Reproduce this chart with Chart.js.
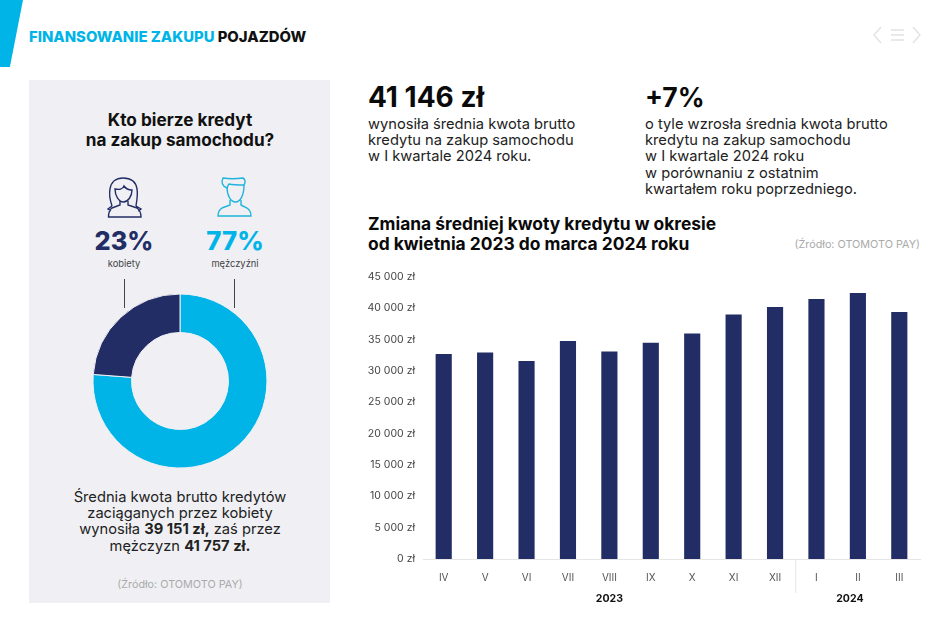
<!DOCTYPE html>
<html lang="pl">
<head>
<meta charset="utf-8">
<title>Finansowanie zakupu pojazdów</title>
<script src="https://cdn.jsdelivr.net/npm/chart.js@4"></script>
<style>
  html, body { margin: 0; padding: 0; background: #fff; }
  body { width: 940px; height: 623px; position: relative; overflow: hidden; font-family: Inter, sans-serif; color: #111; }
  .t { position: absolute; white-space: nowrap; line-height: 1; }
  .c { text-align: center; transform: translateX(-50%); }
  .corner { position: absolute; left: 0; top: 0; width: 23px; height: 67px; background: #00b4e8; clip-path: polygon(0 0, 100% 0, 43% 100%, 0 100%); }
  .panel { position: absolute; left: 29px; top: 80px; width: 301px; height: 523px; background: #f0f0f4; }
  .lines { line-height: 16.2px; font-size: 14.7px; color: #222; }
  .src { font-size: 10.8px; color: #aaa; }
  b { font-weight: 700; }
  canvas { position: absolute; }
  svg { position: absolute; }
  .stem { position: absolute; width: 1px; top: 279px; height: 29px; background: #444; }
</style>
</head>
<body>
<div class="corner"></div>
<div class="t" style="left:29px;top:30px;font-size:14.85px;font-weight:800"><span style="color:#00b4e8">FINANSOWANIE ZAKUPU</span> POJAZDÓW</div>

<svg style="left:870px;top:24px" width="54" height="22" fill="none" stroke="#e2e2e2" stroke-width="1.3">
  <path d="M11 3 L4 11 L11 19 M43 3 L50 11 L43 19 M21 6 H34 M21 11 H34 M21 16 H34"/>
</svg>

<div class="panel"></div>
<div class="t c" style="left:180px;top:110px;font-size:17.2px;font-weight:700;line-height:20px">Kto bierze kredyt<br>na zakup samochodu?</div>

<!-- icons -->
<svg style="left:105px;top:176px" width="38" height="44" fill="none" stroke="#222d66" stroke-width="1.4">
  <path d="M7 30 C5 24 4 18 5 13 C6 6 11 2 18 2 C26 2 31 6 32 13 C33 18 32 24 31 30"/>
  <path d="M10 13 C14 14 18 13 19 10 C21 13 24 14 27 14 C27 20 23 26 18.5 26 C14 26 10 20 10 13 Z"/>
  <path d="M15 25 V29 L7 32 C4 34 3.5 38 3.5 41 H36 C36 38 35 34 32 32 L23 29 V25 M7 30 L3 33 L6 35 M31 30 L36 33 L33 35"/>
</svg>
<svg style="left:216px;top:176px" width="38" height="44" fill="none" stroke="#1fb4dc" stroke-width="1.4">
  <path d="M7 2 C5 6 6 10 11 12 C12 10 12 9 13 8 C18 9 24 9 28 9 C30 6 29 3 27 2 C20 3 13 3 7 2 Z"/>
  <path d="M11 11 C11 20 15 26 19.5 26 C24 26 28 20 28 9"/>
  <path d="M14 24 V29 L6 32 C3 34 2 37 2 40 H35 C35 37 34 34 31 32 L25 29 V24"/>
</svg>

<div class="t c" style="left:124px;top:228px;font-size:25.3px;font-weight:800;color:#222d66">23%</div>
<div class="t c" style="left:235px;top:228px;font-size:25.8px;font-weight:800;color:#00b4e8">77%</div>
<div class="t c" style="left:124px;top:259px;font-size:9.4px;color:#444">kobiety</div>
<div class="t c" style="left:235px;top:259px;font-size:9.4px;color:#444">mężczyźni</div>
<div class="stem" style="left:124px"></div>
<div class="stem" style="left:234px"></div>

<canvas id="shareChart" width="184" height="184" style="left:88px;top:289px"></canvas>

<div class="t c lines" style="left:180px;top:489px">Średnia kwota brutto kredytów<br>zaciąganych przez kobiety<br>wynosiła <b>39 151 zł,</b> zaś przez<br>mężczyzn <b>41 757 zł.</b></div>
<div class="t c src" style="left:180px;top:580px">(Źródło: OTOMOTO PAY)</div>

<div class="t" style="left:368px;top:83px;font-size:28px;font-weight:700;color:#0a0a0a">41 146 zł</div>
<div class="t lines" style="left:368px;top:116px">wynosiła średnia kwota brutto<br>kredytu na zakup samochodu<br>w I kwartale 2024 roku.</div>
<div class="t" style="left:645px;top:84px;font-size:26.5px;font-weight:700;color:#0a0a0a">+7%</div>
<div class="t lines" style="left:645px;top:116px">o tyle wzrosła średnia kwota brutto<br>kredytu na zakup samochodu<br>w I kwartale 2024 roku<br>w porównaniu z ostatnim<br>kwartałem roku poprzedniego.</div>

<div class="t" style="left:368px;top:214px;font-size:17.4px;font-weight:700;line-height:20px;color:#0a0a0a">Zmiana średniej kwoty kredytu w okresie<br>od kwietnia 2023 do marca 2024 roku</div>
<div class="t src" style="right:20px;top:240px">(Źródło: OTOMOTO PAY)</div>

<canvas id="amountChart" width="580" height="350" style="left:360px;top:262px"></canvas>

<script>
const months = ['IV', 'V', 'VI', 'VII', 'VIII', 'IX', 'X', 'XI', 'XII', 'I', 'II', 'III'];
const avgAmount = [32700, 32970, 31600, 34770, 33100, 34500, 36000, 39000, 40200, 41500, 42450, 39400];
const shareLabels = ['mężczyźni', 'kobiety'];
const shareValues = [76.2, 23.8]; // as drawn in the ring, the printed labels say 77/23
const years = ['2023', '2024'];
const yearFirstMonth = [0, 9];
const yearLastMonth = [8, 11];

const navy = '#222d66';
const cyan = '#00b4e8';

new Chart(document.getElementById('shareChart'), {
  type: 'doughnut',
  data: {
    labels: shareLabels,
    datasets: [{ data: shareValues, backgroundColor: [cyan, navy], borderWidth: 1, borderColor: '#f0f0f4' }]
  },
  options: {
    responsive: false,
    animation: false,
    radius: 87,
    cutout: 51,
    plugins: { legend: { display: false }, tooltip: { enabled: false } }
  }
});

// separator and year names under the month labels
const yearRow = {
  id: 'yearRow',
  afterDraw(chart) {
    const x = chart.scales.x;
    const c = chart.ctx;
    const step = x.getPixelForValue(1) - x.getPixelForValue(0);
    const sep = x.getPixelForValue(yearLastMonth[0]) + step / 2;
    c.save();
    c.strokeStyle = '#e6e6e6';
    c.lineWidth = 1;
    c.beginPath();
    c.moveTo(sep, chart.chartArea.bottom);
    c.lineTo(sep, chart.chartArea.bottom + 34);
    c.stroke();
    c.fillStyle = '#111';
    c.font = '700 10.5px Inter';
    c.textAlign = 'center';
    c.textBaseline = 'middle';
    years.forEach((y, i) => {
      const mid = (x.getPixelForValue(yearFirstMonth[i]) + x.getPixelForValue(yearLastMonth[i])) / 2;
      c.fillText(y, i === 1 ? mid - 8 : mid, chart.chartArea.bottom + 40);
    });
    c.restore();
  }
};

new Chart(document.getElementById('amountChart'), {
  type: 'bar',
  data: {
    labels: months,
    datasets: [{ data: avgAmount, backgroundColor: navy, barPercentage: 0.39, categoryPercentage: 1 }]
  },
  options: {
    responsive: false,
    animation: false,
    layout: { padding: { top: 15, right: 20, bottom: 0, left: 0 } },
    scales: {
      x: {
        grid: { display: false },
        border: { color: '#e6e6e6', width: 1 },
        afterFit(scale) { scale.height = 53; },
        ticks: { color: '#555', font: { family: 'Inter', size: 10 }, padding: 5, maxRotation: 0, autoSkip: false }
      },
      y: {
        min: 0,
        max: 45000,
        afterFit(scale) { scale.width = 63; },
        grid: { display: false, drawTicks: false },
        border: { display: false },
        ticks: {
          stepSize: 5000,
          padding: 8,
          color: '#444',
          font: { family: 'Inter', size: 10.5 },
          callback: v => String(v).replace(/\B(?=(\d{3})+$)/g, ' ') + ' zł'
        }
      }
    },
    plugins: { legend: { display: false }, tooltip: { enabled: false } }
  },
  plugins: [yearRow]
});
</script>
</body>
</html>
